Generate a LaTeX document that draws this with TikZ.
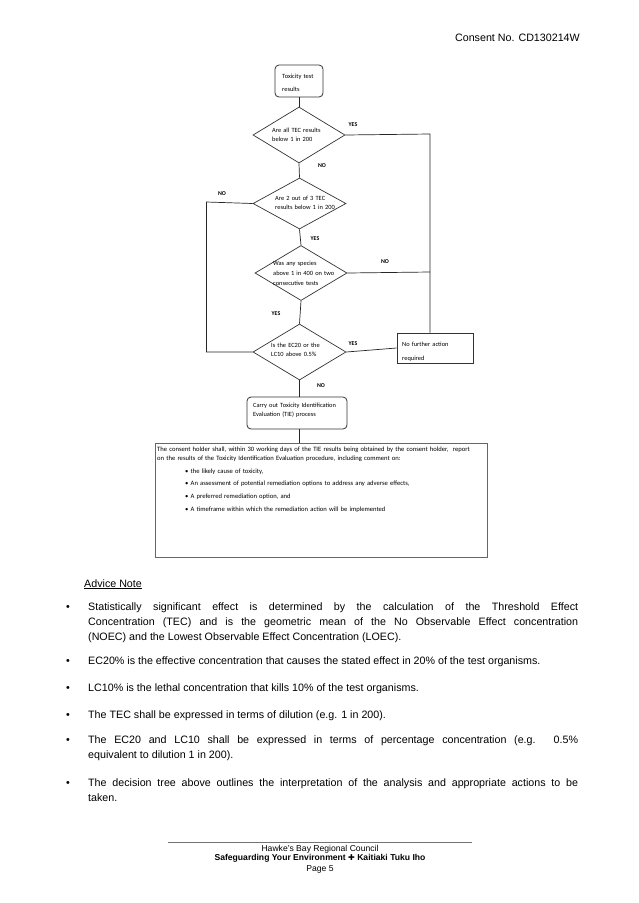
\documentclass[tikz,border=0pt]{standalone}
\usepackage{fontspec}
\setmainfont{Liberation Sans}
\newfontfamily\calfont{Carlito}
\newfontfamily\dejavu{DejaVu Sans}
\usetikzlibrary{shapes.geometric}
\begin{document}
\begin{tikzpicture}[x=1pt,y=-1pt,
  ln/.style={draw=black!85,line width=0.7pt},
  dia/.style={diamond,draw=black!80,line width=0.7pt,inner sep=0pt,minimum width=93pt,minimum height=56pt},
  rbox/.style={rectangle,rounded corners=4pt,draw=black!80,line width=0.8pt,inner sep=0pt},
  sbox/.style={rectangle,draw=black!80,line width=0.8pt,inner sep=0pt},
  ftxt/.style={anchor=base west,inner sep=0pt,text width=110pt,align=left,font=\calfont\fontsize{6.4}{9.5}\selectfont},
  yn/.style={inner sep=0pt,font=\calfont\bfseries\fontsize{5.9}{6}\selectfont},
  body/.style={anchor=base west,text width=490pt,align=justify,inner sep=0pt,font=\fontsize{10.7}{15.4}\selectfont},
  bul/.style={anchor=base west,inner sep=0pt,font=\fontsize{10.7}{15.4}\selectfont},
  foot/.style={inner sep=0pt,font=\fontsize{8.6}{9}\selectfont}
]
\useasboundingbox[fill=white] (0,0) rectangle (638,903);

% header
\node[anchor=base east,inner sep=0pt,font=\fontsize{10.7}{12}\selectfont] (hdr) at (580,41) {Consent No. CD130214W};

% flowchart shapes
\node[rbox,minimum width=48pt,minimum height=32pt] (start) at (299,81) {};
\node[ftxt,font=\calfont\fontsize{6.4}{13.5}\selectfont] (startt) at (282,78.2) {Toxicity test\\results};

\node[dia,minimum width=92pt,minimum height=56pt] (d1) at (299,135) {};
\node[ftxt] (d1t) at (272,132.4) {Are all TEC results\\below 1 in 200};

\node[dia,minimum width=93pt,minimum height=51pt] (d2) at (299.5,203.5) {};
\node[ftxt,font=\calfont\fontsize{6.4}{9}\selectfont] (d2t) at (275,200.4) {Are 2 out of 3 TEC\\results below 1 in 200};

\node[dia,minimum width=92pt,minimum height=55pt] (d3) at (301,273) {};
\node[ftxt,font=\calfont\fontsize{6.4}{10}\selectfont] (d3t) at (273,265.4) {Was any species\\above 1 in 400 on two\\consecutive tests};

\node[dia,minimum width=93pt,minimum height=56pt] (d4) at (299.5,352) {};
\node[ftxt,font=\calfont\fontsize{6.4}{8.8}\selectfont] (d4t) at (271,347.4) {Is the EC20 or the\\LC10 above 0.5\%};

\node[sbox,minimum width=76pt,minimum height=30pt] (nf) at (435,348) {};
\node[ftxt,font=\calfont\fontsize{6.4}{14}\selectfont] (nft) at (402,346.4) {No further action\\required};

\node[rbox,minimum width=100pt,minimum height=32pt] (tie) at (297,413) {};
\node[ftxt,font=\calfont\fontsize{6.4}{9}\selectfont] (tiet) at (253,407.4) {Carry out Toxicity Identification\\Evaluation (TIE) process};

\node[rectangle,draw=black!60,line width=1.3pt,inner sep=0pt,minimum width=332pt,minimum height=114pt,anchor=north west] (big) at (155,443) {};
\node[anchor=base west,inner sep=0pt,text width=380pt,align=left,font=\calfont\fontsize{6.6}{9.2}\selectfont] (bigt) at (157,451.5)
 {The consent holder shall, within 30 working days of the TIE results being obtained by the consent holder,\ \ report\\
  on the results of the Toxicity Identification Evaluation procedure, including comment on:\\[3.4pt]
  \hspace{28pt}\textbullet\ the likely cause of toxicity,\\[3.4pt]
  \hspace{28pt}\textbullet\ An assessment of potential remediation options to address any adverse effects,\\[3.4pt]
  \hspace{28pt}\textbullet\ A preferred remediation option, and\\[3.4pt]
  \hspace{28pt}\textbullet\ A timeframe within which the remediation action will be implemented};

% coordinates
\coordinate (r1) at (430,134);
\coordinate (r3) at (430,272);
\coordinate (l2) at (206.5,202);
\coordinate (l4) at (206.5,352);

% connectors
\draw[ln] (start.south) -- (d1.north);
\draw[ln] (d1.east) -- (r1) -- (nf.north -| r1);
\draw[ln] (d1.south) -- (d2.north);
\draw[ln] (d2.west) -- (l2) -- (l4) -- (d4.west);
\draw[ln] (d2.south) -- (d3.north);
\draw[ln] (d3.east) -- (r3);
\draw[ln] (d3.south) -- (d4.north);
\draw[ln] (d4.east) -- (nf.west);
\draw[ln] (d4.south) -- (tie.north -| d4.south);
\draw[ln] (tie.south -| d4.south) -- (big.north -| d4.south);

% labels
\node[yn] (y1) at (353,124.5) {YES};
\node[yn] (n1) at (322,166) {NO};
\node[yn] (n2) at (222,194) {NO};
\node[yn] (y2) at (315,239) {YES};
\node[yn] (n3) at (385,262) {NO};
\node[yn] (y3) at (276,314) {YES};
\node[yn] (y4) at (353,344) {YES};
\node[yn] (n4) at (321,386) {NO};

% advice note
\node[anchor=base west,inner sep=0pt,font=\fontsize{10.7}{12}\selectfont] (adv) at (84,587) {\underline{Advice Note}};

\node[bul] (b1) at (66,610) {\textbullet};
\node[body] (p1) at (88,610) {Statistically significant effect is determined by the calculation of the Threshold Effect\linebreak Concentration (TEC) and is the geometric mean of the No Observable Effect concentration\linebreak (NOEC) and the Lowest Observable Effect Concentration (LOEC).};
\node[bul] (b2) at (66,664) {\textbullet};
\node[body] (p2) at (88,664) {EC20\% is the effective concentration that causes the stated effect in 20\% of the test organisms.};
\node[bul] (b3) at (66,691) {\textbullet};
\node[body] (p3) at (88,691) {LC10\% is the lethal concentration that kills 10\% of the test organisms.};
\node[bul] (b4) at (66,718) {\textbullet};
\node[body] (p4) at (88,718) {The TEC shall be expressed in terms of dilution (e.g. 1 in 200).};
\node[bul] (b5) at (66,743) {\textbullet};
\node[body] (p5) at (88,743) {The EC20 and LC10 shall be expressed in terms of percentage concentration (e.g. 0.5\%\linebreak equivalent to dilution 1 in 200).};
\node[bul] (b6) at (66,786) {\textbullet};
\node[body] (p6) at (88,786) {The decision tree above outlines the interpretation of the analysis and appropriate actions to be\linebreak taken.};

% footer
\coordinate (fl) at (168,842);
\coordinate (fr) at (472,842);
\draw[draw=black!55,line width=0.6pt] (fl) -- (fr);
\node[foot] (f1) at (320,849) {Hawke's Bay Regional Council};
\node[foot,font=\bfseries\fontsize{8.6}{9}\selectfont] (f2) at (320,858.5) {Safeguarding Your Environment {\dejavu\fontsize{8}{9}\selectfont ✚} Kaitiaki Tuku Iho};
\node[foot] (f3) at (320,869) {Page 5};
\end{tikzpicture}
\end{document}
